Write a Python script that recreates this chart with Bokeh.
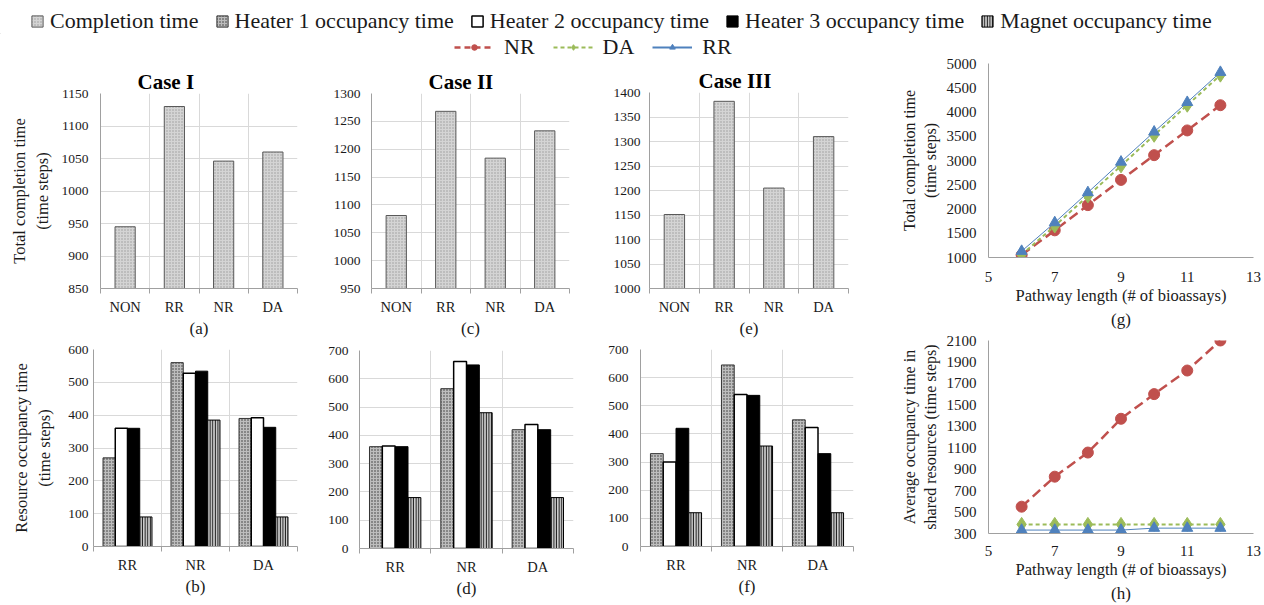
from bokeh.plotting import figure
from bokeh.layouts import column, row
from bokeh.models import (Range1d, FixedTicker, CustomJSTickFormatter, Legend,
                          LegendItem, Title, ColumnDataSource)
from bokeh.transform import dodge
from bokeh.embed import file_html
from bokeh.resources import INLINE

FONT = "Liberation Serif"
GRID = "#d9d9d9"
AXIS = "#a0a0a0"
TXT = "#1a1a1a"

# ---------------- data ----------------
bar_cats = ["NON", "RR", "NR", "DA"]
case1_completion = [945, 1130, 1046, 1060]
case2_completion = [1081, 1268, 1184, 1233]
case3_completion = [1151, 1382, 1205, 1310]

occ_cats = ["RR", "NR", "DA"]
case1_heater1 = [270, 560, 390]
case1_heater2 = [360, 528, 392]
case1_heater3 = [360, 534, 363]
case1_magnet = [90, 385, 90]
case2_heater1 = [360, 565, 420]
case2_heater2 = [362, 661, 438]
case2_heater3 = [360, 649, 420]
case2_magnet = [180, 480, 180]
case3_heater1 = [330, 645, 450]
case3_heater2 = [300, 540, 423]
case3_heater3 = [420, 537, 330]
case3_magnet = [120, 357, 120]

pathway_length = [6, 7, 8, 9, 10, 11, 12]
total_NR = [1050, 1560, 2080, 2600, 3110, 3620, 4140]
total_DA = [1060, 1650, 2270, 2890, 3520, 4140, 4760]
total_RR = [1130, 1720, 2340, 2970, 3590, 4200, 4820]
avg_NR = [550, 830, 1055, 1370, 1600, 1820, 2100]
avg_DA = [385, 385, 385, 385, 385, 385, 385]
avg_RR = [332, 332, 332, 332, 350, 350, 350]

# ---------------- styles ----------------
ST_COMP = dict(fill_color="#d4d4d4", hatch_pattern="dot", hatch_color="#9a9a9a",
               hatch_scale=3, hatch_weight=0.7, line_color="#595959", line_width=1)
ST_H1 = dict(fill_color="#bdbdbd", hatch_pattern="dot", hatch_color="#333333",
             hatch_scale=3, hatch_weight=0.8, line_color="#333333", line_width=1)
ST_H2 = dict(fill_color="white", line_color="black", line_width=1.5)
ST_H3 = dict(fill_color="black", line_color="black", line_width=1)
ST_MAG = dict(fill_color="#cfcfcf", hatch_pattern="vertical_line", hatch_color="#1a1a1a",
              hatch_scale=2.6, hatch_weight=1.4, line_color="black", line_width=1)

C_NR, C_DA, C_RR = "#C0504D", "#9BBB59", "#4F81BD"


def base_fig(w, h, bl, br, bt, bb, xr, yr, title=None):
    p = figure(width=w, height=h, x_range=xr, y_range=yr, output_backend="svg",
               toolbar_location=None, min_border_left=bl, min_border_right=br,
               min_border_top=bt, min_border_bottom=bb, title=title)
    p.outline_line_color = None
    p.background_fill_color = "white"
    p.border_fill_color = "white"
    for ax in (p.xaxis[0], p.yaxis[0]):
        ax.axis_line_color = AXIS
        ax.major_tick_line_color = None
        ax.minor_tick_line_color = None
        ax.major_tick_out = 0
        ax.major_tick_in = 0
        ax.minor_tick_out = 0
        ax.minor_tick_in = 0
        ax.major_label_text_font = FONT
        ax.major_label_text_color = TXT
        ax.axis_label_text_font = FONT
        ax.axis_label_text_font_style = "normal"
        ax.axis_label_text_color = TXT
    return p


def bar_fig(w, h, bl, br, bt, bb, cats, y0, y1, ystep, sub, ylabel=None,
            title=None, toff=0, ystand=10, lstand=10):
    n = len(cats)
    p = base_fig(w, h, bl, br, bt, bb, Range1d(0.5, n + 0.5), Range1d(y0, y1), title)
    if title:
        p.title.text_font = FONT
        p.title.text_font_size = "21px"
        p.title.text_font_style = "bold"
        p.title.text_color = "black"
        p.title.align = "left"
        p.title.offset = toff
        p.title.standoff = 0
    xa = p.xaxis[0]
    xa.ticker = FixedTicker(ticks=list(range(1, n + 1)),
                            minor_ticks=[k + 0.5 for k in range(n + 1)])
    xa.formatter = CustomJSTickFormatter(
        args=dict(labels=cats),
        code="const i = Math.round(tick) - 1; return (i >= 0 && i < labels.length) ? labels[i] : '';")
    xa.minor_tick_line_color = AXIS
    xa.minor_tick_out = 5
    xa.major_label_text_font_size = "14.5px"
    xa.major_label_standoff = 5
    xa.axis_label = sub
    xa.axis_label_text_font_size = "17px"
    xa.axis_label_standoff = 1
    ya = p.yaxis[0]
    ya.ticker = FixedTicker(ticks=list(range(y0, y1 + 1, ystep)))
    ya.major_label_text_font_size = "13.5px"
    ya.major_label_standoff = ystand
    if ylabel:
        ya.axis_label = ylabel
        ya.axis_label_text_font_size = "16.5px"
        ya.axis_label_standoff = lstand
    p.xgrid[0].ticker = FixedTicker(ticks=[k + 0.5 for k in range(n + 1)])
    p.xgrid[0].grid_line_color = GRID
    p.ygrid[0].grid_line_color = GRID
    return p


def completion_fig(w, h, bl, br, bt, bb, vals, y0, y1, sub, title, toff, ystand,
                   ylabel=None):
    p = bar_fig(w, h, bl, br, bt, bb, bar_cats, y0, y1, 50, sub, ylabel, title, toff,
                ystand, 7)
    src = ColumnDataSource(dict(x=list(range(1, len(bar_cats) + 1)), top=vals))
    p.vbar(x="x", top="top", bottom=y0, width=0.41, source=src, **ST_COMP)
    return p


def occ_fig(w, h, bl, br, bt, bb, h1, h2, h3, mag, sub, ystand, ylabel=None):
    p = bar_fig(w, h, bl, br, bt, bb, occ_cats, 0, 700 if max(h1 + h2 + h3 + mag) > 600 else 600,
                100, sub, ylabel, None, 0, ystand, 11)
    src = ColumnDataSource(dict(x=list(range(1, len(occ_cats) + 1)),
                                h1=h1, h2=h2, h3=h3, mag=mag))
    bw = 0.18
    for off, col, st in ((-1.5, "h1", ST_H1), (-0.5, "h2", ST_H2),
                         (0.5, "h3", ST_H3), (1.5, "mag", ST_MAG)):
        p.vbar(x=dodge("x", off * bw, range=p.x_range), top=col, bottom=0, width=bw,
               source=src, **st)
    return p


def line_fig(w, h, bl, br, bt, bb, y0, y1, ystep, ylabel, sub, nr, da, rr, xstand):
    p = base_fig(w, h, bl, br, bt, bb, Range1d(5, 13), Range1d(y0, y1))
    p.xgrid[0].visible = False
    p.ygrid[0].visible = False
    xa, ya = p.xaxis[0], p.yaxis[0]
    xa.ticker = FixedTicker(ticks=[5, 7, 9, 11, 13])
    xa.major_label_text_font_size = "15px"
    xa.major_label_standoff = xstand
    xa.axis_label = "Pathway length (# of bioassays)"
    xa.axis_label_text_font_size = "16.5px"
    xa.axis_label_standoff = 1
    ya.ticker = FixedTicker(ticks=list(range(y0, y1 + 1, ystep)))
    ya.major_label_text_font_size = "15px"
    ya.major_label_standoff = 12
    ya.axis_label = ylabel
    ya.axis_label_text_font_size = "16px"
    ya.axis_label_standoff = 5
    p.add_layout(Title(text=sub, align="center", text_font=FONT, text_font_size="17px",
                       text_font_style="normal", text_color=TXT, standoff=0), "below")
    src = ColumnDataSource(dict(x=pathway_length, nr=nr, da=da, rr=rr))
    p.line("x", "nr", source=src, color=C_NR, line_width=2.5, line_dash="10 5")
    p.scatter("x", "nr", source=src, marker="circle", size=11, color=C_NR)
    p.line("x", "da", source=src, color=C_DA, line_width=2, line_dash="4 3")
    p.scatter("x", "da", source=src, marker="diamond", size=14, color=C_DA)
    p.line("x", "rr", source=src, color=C_RR, line_width=1)
    p.scatter("x", "rr", source=src, marker="triangle", size=11, color=C_RR)
    return p


def strip(w, h):
    s = figure(width=w, height=h, x_range=Range1d(0, 1), y_range=Range1d(0, 1),
               output_backend="svg", toolbar_location=None, x_axis_location=None,
               y_axis_location=None, min_border=0)
    s.outline_line_color = None
    s.border_fill_color = "white"
    s.grid.visible = False
    return s


LEG = dict(orientation="horizontal", padding=0, margin=0, border_line_color=None,
           background_fill_alpha=0, label_text_font=FONT, label_text_font_size="22px",
           label_text_color=TXT, label_height=22, glyph_height=14)

# legend-only renderers: their single point lies far outside the strips' ranges
far = [-50.0]

# ---------------- legend strip 1 (bar series) ----------------
lf1 = strip(1264, 34)
r_comp = lf1.vbar(x=far, top=far, bottom=-60, width=1, **ST_COMP)
r_h1 = lf1.vbar(x=far, top=far, bottom=-60, width=1, **ST_H1)
r_h2 = lf1.vbar(x=far, top=far, bottom=-60, width=1, **ST_H2)
r_h3 = lf1.vbar(x=far, top=far, bottom=-60, width=1, **ST_H3)
r_mag = lf1.vbar(x=far, top=far, bottom=-60, width=1, **ST_MAG)
leg1 = Legend(items=[LegendItem(label="Completion time", renderers=[r_comp]),
                     LegendItem(label="Heater 1 occupancy time", renderers=[r_h1]),
                     LegendItem(label="Heater 2 occupancy time", renderers=[r_h2]),
                     LegendItem(label="Heater 3 occupancy time", renderers=[r_h3]),
                     LegendItem(label="Magnet occupancy time", renderers=[r_mag])],
              location=(30, 0), glyph_width=14, label_standoff=6, spacing=16, **LEG)
lf1.add_layout(leg1)

# ---------------- legend strip 2 (line series) ----------------
lf2 = strip(870, 26)
l_nr = lf2.line(x=far, y=far, color=C_NR, line_width=2.5, line_dash="6 4")
s_nr = lf2.scatter(x=far, y=far, marker="circle", size=12, color=C_NR)
l_da = lf2.line(x=far, y=far, color=C_DA, line_width=2, line_dash="4 3")
s_da = lf2.scatter(x=far, y=far, marker="diamond", size=15, color=C_DA)
l_rr = lf2.line(x=far, y=far, color=C_RR, line_width=2)
s_rr = lf2.scatter(x=far, y=far, marker="triangle", size=12, color=C_RR)
leg2 = Legend(items=[LegendItem(label="NR", renderers=[l_nr, s_nr]),
                     LegendItem(label="DA", renderers=[l_da, s_da]),
                     LegendItem(label="RR", renderers=[l_rr, s_rr])],
              location=(454, 0), glyph_width=40, label_standoff=10, spacing=18, **LEG)
lf2.add_layout(leg2)

# ---------------- panels ----------------
pa = completion_fig(310, 280, 100, 13, 33, 50, case1_completion, 850, 1150, "(a)", "Case I", 37, 12,
                    ylabel="Total completion time\n(time steps)")
pc = completion_fig(280, 280, 61, 21, 33, 50, case2_completion, 950, 1300, "(c)", "Case II", 57, 11)
pe = completion_fig(280, 280, 59, 22, 32, 50, case3_completion, 1000, 1400, "(e)", "Case III", 49, 9)

pb = occ_fig(310, 265, 93, 13, 9, 59, case1_heater1, case1_heater2, case1_heater3, case1_magnet, "(b)", 5,
             ylabel="Resource occupancy time\n(time steps)")
pd = occ_fig(280, 265, 49, 17, 10, 57, case2_heater1, case2_heater2, case2_heater3, case2_magnet, "(d)", 11)
pf = occ_fig(280, 265, 50, 17, 9, 59, case3_heater1, case3_heater2, case3_heater3, case3_magnet, "(f)", 12)

pg = line_fig(394, 296, 118, 11, 29, 73, 1000, 5000, 500, "Total completion time\n(time steps)", "(g)",
              total_NR, total_DA, total_RR, 14)
ph = line_fig(394, 275, 118, 11, 10, 72, 300, 2100, 200,
              "Average occupancy time in\nshared resources (time steps)", "(h)",
              avg_NR, avg_DA, avg_RR, 12)


def box(p):
    # each plot sits in its own box so that frames are not aligned across a row
    return column(p, spacing=0)


left = column(box(lf2),
              row(box(pa), box(pc), box(pe), spacing=0),
              row(box(pb), box(pd), box(pf), spacing=0), spacing=0)
right = column(box(pg), box(ph), spacing=0)
layout = column(box(lf1), row(left, right, spacing=0), spacing=0)
open("out.html", "w").write(file_html(layout, INLINE))
